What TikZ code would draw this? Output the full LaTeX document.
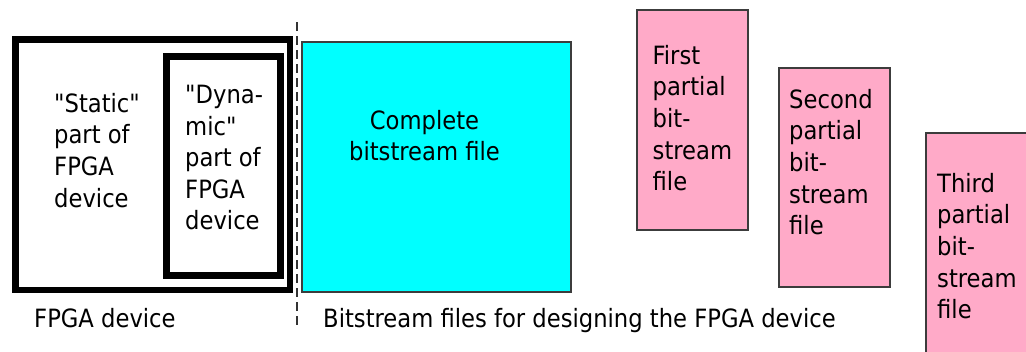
\documentclass[tikz,border=0pt]{standalone}
\usepackage{fontspec}
\newfontfamily\labelfont{DejaVu Sans Condensed}
\definecolor{pinkfill}{RGB}{255,170,200}
\definecolor{cyanfill}{RGB}{0,255,255}
\definecolor{edgegray}{RGB}{60,60,60}
\begin{document}
\begin{tikzpicture}[x=1pt,y=-1pt,
  thickbox/.style={draw=black, line width=6.8pt, inner sep=0pt, outer sep=0pt, anchor=north west},
  filebox/.style={draw=edgegray, line width=1.2pt, inner sep=0pt, outer sep=0pt, anchor=north west},
  txt/.style={inner sep=0pt, anchor=north west, align=left, font=\labelfont\fontsize{25.2}{31.6}\selectfont},
  ctxt/.style={inner sep=0pt, anchor=north, align=center, font=\labelfont\fontsize{25.2}{31.6}\selectfont},
  divider/.style={draw=black!80, line width=1.2pt, dash pattern=on 9pt off 5pt}]
\useasboundingbox (0,0) rectangle (1026,351);
\clip (0,0) rectangle (1026,351);
\fill[white] (0,0) rectangle (1026,351);
% FPGA device
\node[thickbox, minimum width=274.5pt, minimum height=250.5pt] (fpga) at (15.5,39.5) {};
\node[thickbox, minimum width=114pt, minimum height=219pt] (dyn) at (166.5,56.5) {};
\node[txt] (statictxt) at (54,93) {"Static"\\part of\\FPGA\\device};
\node[txt] (dyntxt) at (185,85) {"Dyna-\\mic"\\part of\\FPGA\\device};
\node[txt] (fpgalabel) at (34,308) {FPGA device};
% divider
\coordinate (dtop) at (297,22);
\coordinate (dbot) at (297,329);
\draw[divider] (dtop) -- (dbot);
% bitstream files
\node[filebox, fill=cyanfill, minimum width=269pt, minimum height=250pt] (complete) at (302,42) {};
\node[ctxt] (completetxt) at (424.5,110) {Complete\\bitstream file};
\node[filebox, fill=pinkfill, minimum width=111pt, minimum height=220pt] (p1) at (637,10) {};
\node[txt] (p1txt) at (652.5,45) {First\\partial\\bit-\\stream\\file};
\node[filebox, fill=pinkfill, minimum width=111pt, minimum height=219pt] (p2) at (779,68) {};
\node[txt] (p2txt) at (789,89) {Second\\partial\\bit-\\stream\\file};
\node[filebox, fill=pinkfill, minimum width=120pt, minimum height=230pt] (p3) at (926,133) {};
\node[txt] (p3txt) at (937,173) {Third\\partial\\bit-\\stream\\file};
\node[txt] (bitlabel) at (323,308) {Bitstream files for designing the FPGA device};
\end{tikzpicture}
\end{document}
